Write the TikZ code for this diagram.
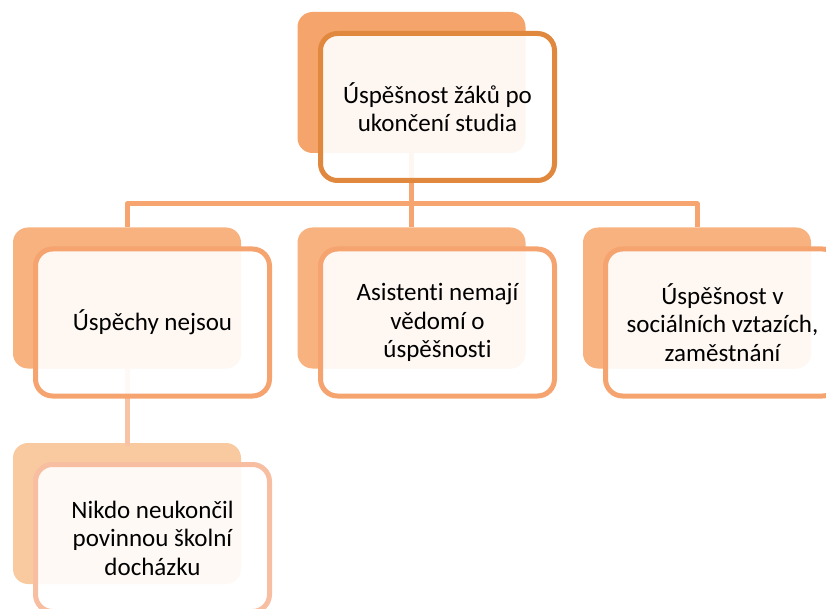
\documentclass[tikz,border=0pt]{standalone}
\usepackage{fontspec}
\setmainfont{Carlito}[Ligatures={NoCommon,NoRare}]
\definecolor{backA}{HTML}{F5A56C}
\definecolor{lineA}{HTML}{E0883E}
\definecolor{backB}{HTML}{F8B280}
\definecolor{lineB}{HTML}{F6A46F}
\definecolor{backC}{HTML}{F9C9A0}
\definecolor{lineC}{HTML}{F8BEA2}
\definecolor{connA}{HTML}{F6A470}
\definecolor{connB}{HTML}{F8C2A4}
\tikzset{
  backbox/.style={rectangle, rounded corners=15pt, minimum width=228pt, minimum height=141pt, inner sep=0pt, draw=none},
  frontbox/.style={rectangle, rounded corners=17pt, minimum width=234pt, minimum height=147pt, line width=5pt, fill=white, fill opacity=0.9, text opacity=1, align=center, font=\fontsize{25}{28.5}\selectfont, text=black},
  conn/.style={line width=5pt, line join=round}
}
\begin{document}
\begin{tikzpicture}[x=1pt,y=-1pt]
\useasboundingbox (0,0) rectangle (826,609);
% back boxes
\node[backbox, fill=backA] (b0) at (411.5,82.5) {};
\node[backbox, fill=backB] (b1) at (127,298) {};
\node[backbox, fill=backB] (b2) at (411.5,298) {};
\node[backbox, fill=backB] (b3) at (697,298) {};
\node[backbox, fill=backC] (b4) at (127,513.5) {};
% connectors
\coordinate (j0) at (411.5,204);
\coordinate (j1) at (127,204);
\coordinate (j3) at (697,204);
\draw[conn, draw=connA] (b0.south) -- (j0);
\draw[conn, draw=connA] (b1.north) -- (j1) -- (j3) -- (b3.north);
\draw[conn, draw=connA] (j0) -- (b2.north);
\draw[conn, draw=connB] (b1.south) -- ([yshift=-3pt]b4.north);
% front boxes
\node[frontbox, draw=lineA] (f0) at (437.5,107) {Úspěšnost žáků po\\ukončení studia};
\node[frontbox, draw=lineB] (f1) at (152.5,322.5) {Úspěchy nejsou};
\node[frontbox, draw=lineB] (f2) at (437.5,322.5) {Asistenti nemají\\vědomí o\\úspěšnosti};
\node[frontbox, draw=lineB] (f3) at (722.5,322.5) {Úspěšnost v\\sociálních vztazích,\\zaměstnání};
\node[frontbox, draw=lineC] (f4) at (152.5,538) {Nikdo neukončil\\povinnou školní\\docházku};
\end{tikzpicture}
\end{document}
